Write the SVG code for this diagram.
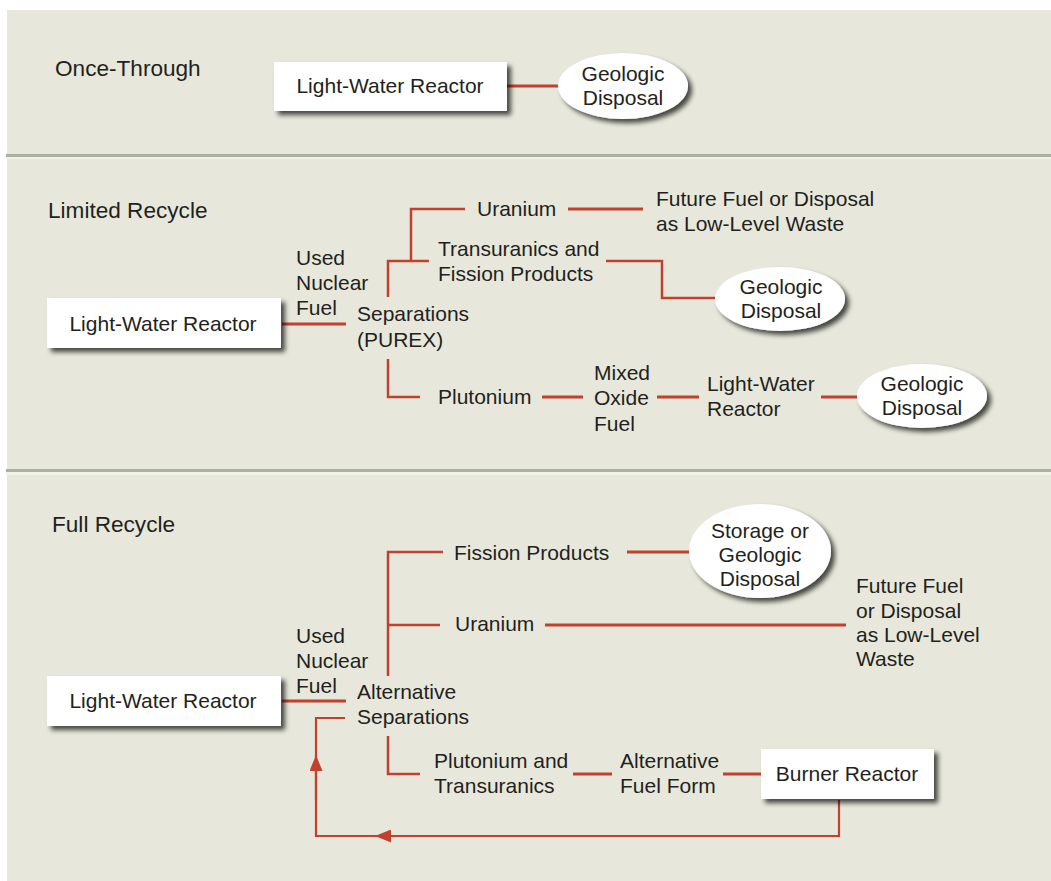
<svg xmlns="http://www.w3.org/2000/svg" width="1051" height="881" viewBox="0 0 1051 881">
<defs>
<style>
text{font-family:"Liberation Sans",Arial,sans-serif;font-size:21px;fill:#231f20}
.c{text-anchor:middle}
.hd{font-size:22.6px}
.ln{fill:none;stroke:#c1412e;stroke-width:3}
.tr{fill:none;stroke:#c1412e;stroke-width:2.5}
.fb{fill:none;stroke:#c1412e;stroke-width:2.2}
.box{fill:#fff}
.ell{fill:#fff}
</style>
<filter id="sh" x="-20%" y="-30%" width="150%" height="180%">
<feGaussianBlur in="SourceAlpha" stdDeviation="2.5"/>
<feOffset dx="4" dy="4" result="b"/>
<feComponentTransfer><feFuncA type="linear" slope="0.7"/></feComponentTransfer>
<feMerge><feMergeNode/><feMergeNode in="SourceGraphic"/></feMerge>
</filter>
<marker id="ah" viewBox="0 0 16 13" refX="8" refY="6.5" markerWidth="16" markerHeight="13" markerUnits="userSpaceOnUse" orient="auto">
<path d="M0,0 L16,6.5 L0,13 z" fill="#c1412e"/>
</marker>
</defs>
<rect x="0" y="0" width="1051" height="881" fill="#fff"/>
<rect x="7" y="10" width="1044" height="871" fill="#e7e8db"/>
<rect x="6" y="154" width="1045" height="3" fill="#a9b1a0"/>
<rect x="6" y="157" width="1045" height="2" fill="#f1f2e9"/>
<rect x="6" y="469" width="1045" height="3" fill="#a9b1a0"/>
<rect x="6" y="472" width="1045" height="3" fill="#f1f2e9"/>

<g id="section-labels">
<text class="hd" x="55" y="76">Once-Through</text>
<text class="hd" x="48" y="218">Limited Recycle</text>
<text class="hd" x="52" y="532">Full Recycle</text>
</g>

<g id="connectors">
<path class="ln" d="M507,86 H558"/>
<path class="ln" d="M282,324 H346"/>
<path class="tr" d="M388,297 V261 H429"/>
<path class="tr" d="M411,261 V209 H465"/>
<path class="ln" d="M568,209 H643"/>
<path class="tr" d="M606,261 H662 V298 H716"/>
<path class="tr" d="M388,359 V397 H420"/>
<path class="ln" d="M542,397 H583"/>
<path class="ln" d="M657,397 H699"/>
<path class="ln" d="M821,397 H858"/>
<path class="ln" d="M282,701 H346"/>
<path class="tr" d="M443,552 H388 V676"/>
<path class="tr" d="M388,625 H440"/>
<path class="ln" d="M627,552 H690"/>
<path class="ln" d="M545,625 H846"/>
<path class="tr" d="M388,736 V774 H420"/>
<path class="ln" d="M573,774 H612"/>
<path class="ln" d="M723,774 H761"/>
<path class="fb" d="M839,800 V836 H316 V718 H345"/>
<path class="fb" d="M600,836 H383" marker-end="url(#ah)"/>
<path class="fb" d="M316,800 V763" marker-end="url(#ah)"/>
</g>

<g id="n-lwr1">
<rect class="box" x="274" y="62" width="233" height="49" filter="url(#sh)"/>
<text class="c" x="390" y="93">Light-Water Reactor</text>
</g>
<g id="n-geo1">
<ellipse class="ell" cx="623" cy="86" rx="65" ry="33" filter="url(#sh)"/>
<text class="c" x="623" y="81">Geologic</text>
<text class="c" x="623" y="105">Disposal</text>
</g>

<g id="n-lwr2">
<rect class="box" x="47" y="298" width="234" height="50" filter="url(#sh)"/>
<text class="c" x="163" y="331">Light-Water Reactor</text>
</g>
<g id="n-unf2">
<text x="296" y="265">Used</text>
<text x="296" y="290">Nuclear</text>
<text x="296" y="315">Fuel</text>
</g>
<g id="n-sep2">
<text x="357" y="321">Separations</text>
<text x="357" y="347">(PUREX)</text>
</g>
<g id="n-u2"><text x="477" y="216">Uranium</text></g>
<g id="n-ff2">
<text x="656" y="206">Future Fuel or Disposal</text>
<text x="656" y="231">as Low-Level Waste</text>
</g>
<g id="n-tru2">
<text x="438" y="256">Transuranics and</text>
<text x="438" y="281">Fission Products</text>
</g>
<g id="n-geo2">
<ellipse class="ell" cx="780" cy="299" rx="65" ry="32" filter="url(#sh)"/>
<text class="c" x="781" y="294">Geologic</text>
<text class="c" x="781" y="318">Disposal</text>
</g>
<g id="n-pu2"><text x="438" y="404">Plutonium</text></g>
<g id="n-mox2">
<text x="594" y="380">Mixed</text>
<text x="594" y="405">Oxide</text>
<text x="594" y="431">Fuel</text>
</g>
<g id="n-lwr2b">
<text x="707" y="391">Light-Water</text>
<text x="707" y="416">Reactor</text>
</g>
<g id="n-geo2b">
<ellipse class="ell" cx="922" cy="396" rx="65" ry="32" filter="url(#sh)"/>
<text class="c" x="922" y="391">Geologic</text>
<text class="c" x="922" y="415">Disposal</text>
</g>

<g id="n-lwr3">
<rect class="box" x="47" y="676" width="234" height="50" filter="url(#sh)"/>
<text class="c" x="163" y="708">Light-Water Reactor</text>
</g>
<g id="n-unf3">
<text x="296" y="643">Used</text>
<text x="296" y="668">Nuclear</text>
<text x="296" y="693">Fuel</text>
</g>
<g id="n-sep3">
<text x="357" y="699">Alternative</text>
<text x="357" y="724">Separations</text>
</g>
<g id="n-fp3"><text x="454" y="560">Fission Products</text></g>
<g id="n-stor3">
<ellipse class="ell" cx="760" cy="551" rx="71" ry="47" filter="url(#sh)"/>
<text class="c" x="760" y="538">Storage or</text>
<text class="c" x="760" y="562">Geologic</text>
<text class="c" x="760" y="586">Disposal</text>
</g>
<g id="n-u3"><text x="455" y="631">Uranium</text></g>
<g id="n-ff3">
<text x="856" y="593">Future Fuel</text>
<text x="856" y="618">or Disposal</text>
<text x="856" y="642">as Low-Level</text>
<text x="856" y="666">Waste</text>
</g>
<g id="n-putru3">
<text x="434" y="768">Plutonium and</text>
<text x="434" y="793">Transuranics</text>
</g>
<g id="n-aff3">
<text x="620" y="768">Alternative</text>
<text x="620" y="793">Fuel Form</text>
</g>
<g id="n-burner3">
<rect class="box" x="761" y="749" width="173" height="50" filter="url(#sh)"/>
<text class="c" x="847" y="781">Burner Reactor</text>
</g>
</svg>
